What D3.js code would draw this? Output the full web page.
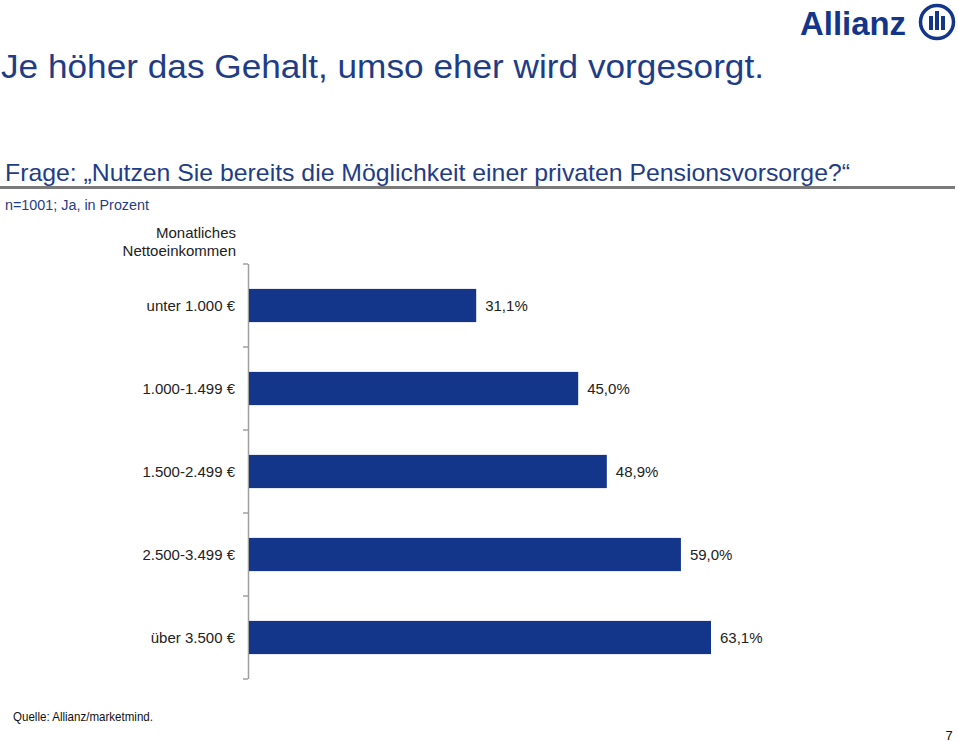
<!DOCTYPE html>
<html><head><meta charset="utf-8">
<script src="https://cdn.jsdelivr.net/npm/d3@7"></script>
<style>body{margin:0;background:#fff;}svg{display:block;font-family:Arial,"Liberation Sans",sans-serif;}</style>
</head><body>
<script>
const categories = ["unter 1.000 €", "1.000-1.499 €", "1.500-2.499 €", "2.500-3.499 €", "über 3.500 €"];
const values = [31.1, 45.0, 48.9, 59.0, 63.1];
const valueLabels = ["31,1%", "45,0%", "48,9%", "59,0%", "63,1%"];

const W = 959, H = 742;
const svg = d3.select("body").append("svg").attr("width", W).attr("height", H);

// Title
svg.append("text").attr("x", 1).attr("y", 78).attr("font-size", 33).attr("fill", "#1f3d87")
  .attr("textLength", 763).attr("lengthAdjust", "spacingAndGlyphs")
  .text("Je höher das Gehalt, umso eher wird vorgesorgt.");
svg.append("text").attr("x", 5).attr("y", 181).attr("font-size", 24).attr("fill", "#1f3d87")
  .attr("textLength", 845).attr("lengthAdjust", "spacingAndGlyphs")
  .text("Frage: „Nutzen Sie bereits die Möglichkeit einer privaten Pensionsvorsorge?“");
svg.append("rect").attr("x", 0).attr("y", 186).attr("width", 955).attr("height", 3).attr("fill", "#7a7a7a");
svg.append("text").attr("x", 5).attr("y", 210).attr("font-size", 14).attr("fill", "#1f3d87")
  .attr("textLength", 144).attr("lengthAdjust", "spacingAndGlyphs")
  .text("n=1001; Ja, in Prozent");
svg.append("text").attr("x", 236).attr("y", 238).attr("font-size", 15).attr("fill", "#222").attr("text-anchor", "end").text("Monatliches");
svg.append("text").attr("x", 236).attr("y", 256).attr("font-size", 15).attr("fill", "#222").attr("text-anchor", "end").text("Nettoeinkommen");

// Logo
svg.append("text").attr("x", 800).attr("y", 35).attr("font-size", 34).attr("font-weight", "bold")
  .attr("fill", "#13368a").attr("textLength", 106).attr("lengthAdjust", "spacingAndGlyphs").text("Allianz");
const lg = svg.append("g").attr("transform", "translate(937,22)");
lg.append("circle").attr("r", 16.5).attr("fill", "none").attr("stroke", "#13368a").attr("stroke-width", 3.5);
lg.append("rect").attr("x", -8).attr("y", -6).attr("width", 4).attr("height", 14).attr("fill", "#13368a");
lg.append("rect").attr("x", -2).attr("y", -11).attr("width", 4).attr("height", 19).attr("fill", "#13368a");
lg.append("rect").attr("x", 4).attr("y", -6).attr("width", 4).attr("height", 14).attr("fill", "#13368a");

// Chart
const x0 = 248;
const x = d3.scaleLinear().domain([0, 63.1]).range([x0, 711]);
const y = d3.scaleBand().domain(categories).range([264, 679]).paddingInner(0.6).paddingOuter(0.3);

// axis line with ticks
svg.append("line").attr("x1", x0 + 0.5).attr("x2", x0 + 0.5).attr("y1", 264).attr("y2", 679)
  .attr("stroke", "#a0a0a0").attr("stroke-width", 1.5);
const tickYs = d3.range(categories.length + 1).map(i => 264 + i * y.step());
svg.selectAll(".tk").data(tickYs).join("line").attr("class", "tk")
  .attr("x1", x0 - 5).attr("x2", x0).attr("y1", d => d).attr("y2", d => d)
  .attr("stroke", "#a0a0a0").attr("stroke-width", 1.5);

svg.selectAll(".bar").data(values).join("rect").attr("class", "bar")
  .attr("x", x0 + 1).attr("y", (d, i) => y(categories[i]))
  .attr("width", d => x(d) - x0 - 1).attr("height", y.bandwidth())
  .attr("fill", "#13368a");

svg.selectAll(".vl").data(values).join("text").attr("class", "vl")
  .attr("x", d => x(d) + 9).attr("y", (d, i) => y(categories[i]) + y.bandwidth() / 2 + 5)
  .attr("font-size", 15).attr("fill", "#222").text((d, i) => valueLabels[i]);

svg.selectAll(".cl").data(categories).join("text").attr("class", "cl")
  .attr("x", 235).attr("y", d => y(d) + y.bandwidth() / 2 + 5)
  .attr("text-anchor", "end").attr("font-size", 15).attr("fill", "#222").text(d => d);

// Footer
svg.append("text").attr("x", 13).attr("y", 721).attr("font-size", 13).attr("fill", "#111")
  .attr("textLength", 140).attr("lengthAdjust", "spacingAndGlyphs").text("Quelle: Allianz/marketmind.");
svg.append("text").attr("x", 949).attr("y", 740).attr("font-size", 13).attr("fill", "#111").attr("text-anchor", "middle").text("7");
</script>
</body></html>
